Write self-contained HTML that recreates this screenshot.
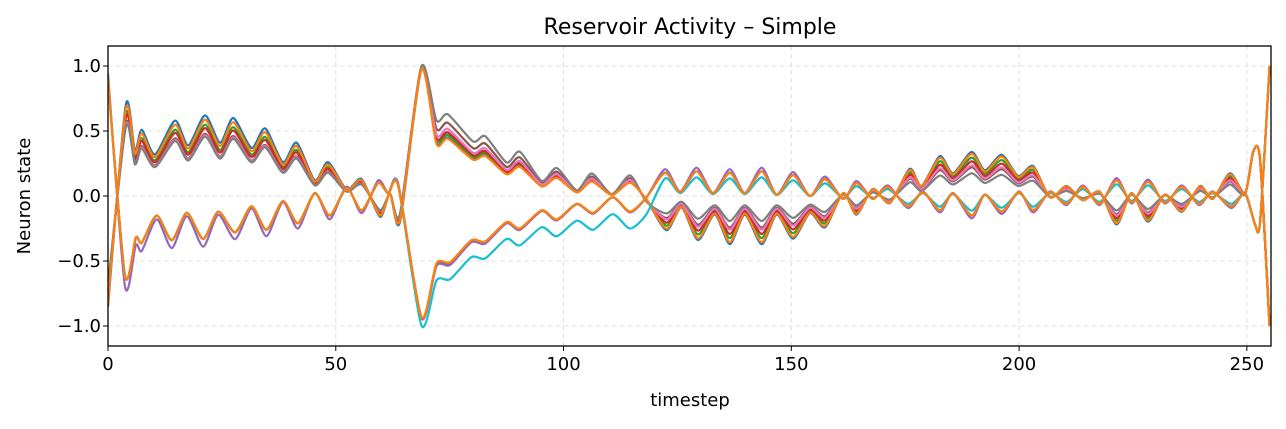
<!DOCTYPE html>
<html><head><meta charset="utf-8"><style>
body{margin:0;background:#fff;font-family:"Liberation Sans","DejaVu Sans",sans-serif}
svg text{font-family:"DejaVu Sans","Liberation Sans",sans-serif;fill:#000}
</style></head><body>
<svg id="chart" width="1286" height="424" xmlns="http://www.w3.org/2000/svg">
<rect width="1286" height="424" fill="#fff"/>
<text x="690" y="34" text-anchor="middle" font-size="22">Reservoir Activity – Simple</text>
<g id="grid"></g><g id="lines"></g><g id="axes"></g>
<text x="690" y="406" text-anchor="middle" font-size="18">timestep</text>
<text transform="translate(30,196) rotate(-90)" text-anchor="middle" font-size="18">Neuron state</text>
</svg>
<script>
const tA=[0,3.9,5.9,7.4,10.3,14.7,17.6,21.3,24.6,27.5,31.5,34.5,38.4,41.4,45.4,48.3,52.4,55.7,59.7,61.9,64.1,68.8,72.1,74.6,80.1,82.8,87.5,90.4,95.2,98.5,102.9,106.2,110.6,114.6,118.2,122.6,125.9,129.5,133.2,136.5,139.8,143.5,146.8,150.4,154.1,157.4,161.4,164.3,167.9,171.6,176,178.6,182.6,185.5,189.6,192.5,196.2,199.8,203.1,206.8,210.4,214,217.7,221.4,224.7,228.3,232,235.7,239.7,242.5,246.3,249.6,251.4,252.9,255];
const vA=[-0.85,0.70,0.35,0.51,0.32,0.58,0.39,0.62,0.41,0.60,0.37,0.52,0.26,0.41,0.12,0.26,0.05,0.13,-0.16,0.02,-0.2,0.98,0.43,0.47,0.30,0.33,0.18,0.24,0.08,0.15,0.03,0.12,0.01,0.11,-0.03,-0.24,-0.08,-0.31,-0.13,-0.34,-0.13,-0.34,-0.13,-0.30,-0.12,-0.22,0.02,-0.13,0.05,-0.05,0.19,0.07,0.28,0.16,0.31,0.18,0.29,0.14,0.21,-0.01,0.07,-0.03,0.03,-0.2,0.02,-0.18,0.01,-0.11,0.07,-0.02,0.16,0.02,0.34,0.28,-1.0];
const tB=[0,3.7,6.1,7.4,10.7,14,17.3,20.9,24.2,27.9,31.5,34.8,38.4,41.7,45.4,48.7,52.4,55.7,59.3,61.5,63.7,68.8,72.1,75.1,79.8,82.8,87.5,90.4,95.2,98.5,102.9,106.5,110.8,114.6,118.2,122.3,125.6,129.2,132.8,136.5,139.8,143.5,146.8,150.4,154.1,157.4,161.4,164.3,167.9,171.2,175.6,178.9,182.6,185.5,189.6,192.5,196.2,200,203.1,206.8,210.4,214,217.7,221.4,224.7,228.3,232,235.7,239.5,242.5,246.6,249.6,251.8,252.9,255];
const vB=[0.9,-0.61,-0.32,-0.36,-0.15,-0.34,-0.13,-0.33,-0.12,-0.28,-0.08,-0.26,-0.04,-0.21,0.02,-0.15,0.06,-0.11,0.1,0.02,0.08,-0.93,-0.52,-0.51,-0.34,-0.35,-0.2,-0.25,-0.11,-0.18,-0.06,-0.13,-0.01,-0.12,-0.01,0.18,0.03,0.19,0.02,0.18,0.02,0.19,0.01,0.16,0,0.13,-0.02,0.10,-0.02,0.07,-0.08,0.03,-0.11,0.02,-0.15,0.01,-0.12,0.03,-0.11,0.03,-0.06,0.07,-0.06,0.12,-0.05,0.11,-0.05,0.07,-0.06,0.03,-0.08,0.02,-0.22,-0.2,1.0];
const seriesNames=["blue-a","green-a","red-a","brown-a","pink-a","gray-a","orange-a","olive-b","blue-b","purple-b","cyan-b","orange-b"];
const seriesColors=["#1f77b4","#2ca02c","#d62728","#8c564b","#e377c2","#7f7f7f","#ff7f0e","#bcbd22","#1f77b4","#9467bd","#17becf","#ff7f0e"];
const seriesGroup=["A","A","A","A","A","A","A","B","B","B","B","B"];
const scaleP1=[1.0,0.85,0.8,0.72,0.7,0.68,0.93,1.0,1.0,1.2,1.0,1.0];
const scaleP2=[0.95,1.0,1.05,1.25,1.12,1.45,0.93,1.0,1.02,1.05,1.0,1.0];
const scaleP3=[1.1,0.95,0.85,0.7,0.75,0.55,1.05,1.0,1.0,1.15,0.75,1.0];
const offP2=[0,0,0,0,0,0,0,0,0,0,-0.13,0];
const xTicks=[0,50,100,150,200,250];
const yTicks=[1.0,0.5,0.0,-0.5,-1.0];
const X0=108,X1=1271,Y0=46,Y1=346,xmin=0,xmax=255.3,ymin=-1.154,ymax=1.154;
const sx=t=>X0+(t-xmin)/(xmax-xmin)*(X1-X0);
const sy=v=>Y1-(v-ymin)/(ymax-ymin)*(Y1-Y0);
const NS="http://www.w3.org/2000/svg";
function mk(tag,attrs,parent){const e=document.createElementNS(NS,tag);for(const k in attrs)e.setAttribute(k,attrs[k]);parent.appendChild(e);return e;}
const grid=document.getElementById('grid'),axes=document.getElementById('axes'),lines=document.getElementById('lines');
xTicks.forEach(t=>{
  const g=mk('line',{x1:sx(t),x2:sx(t),y1:Y0,y2:Y1,stroke:'#e0e0e0','stroke-dasharray':'5,3','stroke-width':1},grid);
  
  
  mk('line',{x1:sx(t),x2:sx(t),y1:Y1,y2:Y1+5,stroke:'#000','stroke-width':1},axes);
  const tx=mk('text',{x:sx(t),y:Y1+24,'text-anchor':'middle','font-size':18},axes);tx.textContent=t;
  
  
});
yTicks.forEach(v=>{
  const g=mk('line',{x1:X0,x2:X1,y1:sy(v),y2:sy(v),stroke:'#e0e0e0','stroke-dasharray':'5,3','stroke-width':1},grid);
  
  
  mk('line',{x1:X0-5,x2:X0,y1:sy(v),y2:sy(v),stroke:'#000','stroke-width':1},axes);
  const tx=mk('text',{x:X0-7,y:sy(v)+6,'text-anchor':'end','font-size':18},axes);tx.textContent=(v<0?'\u2212':'')+Math.abs(v).toFixed(1);
  
  
});
const frame=mk('rect',{x:X0,y:Y0,width:X1-X0,height:Y1-Y0,fill:'none',stroke:'#000','stroke-width':1.3},axes);


function atanh(x){x=Math.max(-0.999,Math.min(0.999,x));return 0.5*Math.log((1+x)/(1-x));}
function tr(v,s){return Math.tanh(s*atanh(v));}
function pathFor(ts,vs){
  const p=ts.map((t,i)=>[sx(t),sy(vs[i])]);
  let d='M'+p[0][0].toFixed(1)+','+p[0][1].toFixed(1);
  for(let i=0;i<p.length-1;i++){
    const a=p[Math.max(0,i-1)],b=p[i],c=p[i+1],e=p[Math.min(p.length-1,i+2)];
    const c1=[b[0]+(c[0]-a[0])/8,b[1]+(c[1]-a[1])/8],c2=[c[0]-(e[0]-b[0])/8,c[1]-(e[1]-b[1])/8];
    d+=' C'+c1[0].toFixed(1)+','+c1[1].toFixed(1)+' '+c2[0].toFixed(1)+','+c2[1].toFixed(1)+' '+c[0].toFixed(1)+','+c[1].toFixed(1);
  }
  return d;
}
seriesNames.forEach((nm,i)=>{
  const ts=seriesGroup[i]==='A'?tA:tB, vs0=seriesGroup[i]==='A'?vA:vB;
  const vs=vs0.map((v,k)=>{const t=ts[k];
    if(t<66)return tr(v,scaleP1[i]);
    if(t<70)return tr(v,scaleP2[i])+offP2[i]*0.5;
    if(t<119.5)return tr(v,scaleP2[i])+offP2[i];
    if(t>250.5)return v;
    return tr(v,scaleP3[i]);});
  const p=mk('path',{d:pathFor(ts,vs),fill:'none',stroke:seriesColors[i],'stroke-width':2.2,'stroke-linejoin':'round'},lines);
  
  
});
const cp=mk('clipPath',{id:'clip'},document.getElementById('chart'));
mk('rect',{x:X0,y:Y0,width:X1-X0,height:Y1-Y0},cp);
lines.setAttribute('clip-path','url(#clip)');
</script>
</body></html>
